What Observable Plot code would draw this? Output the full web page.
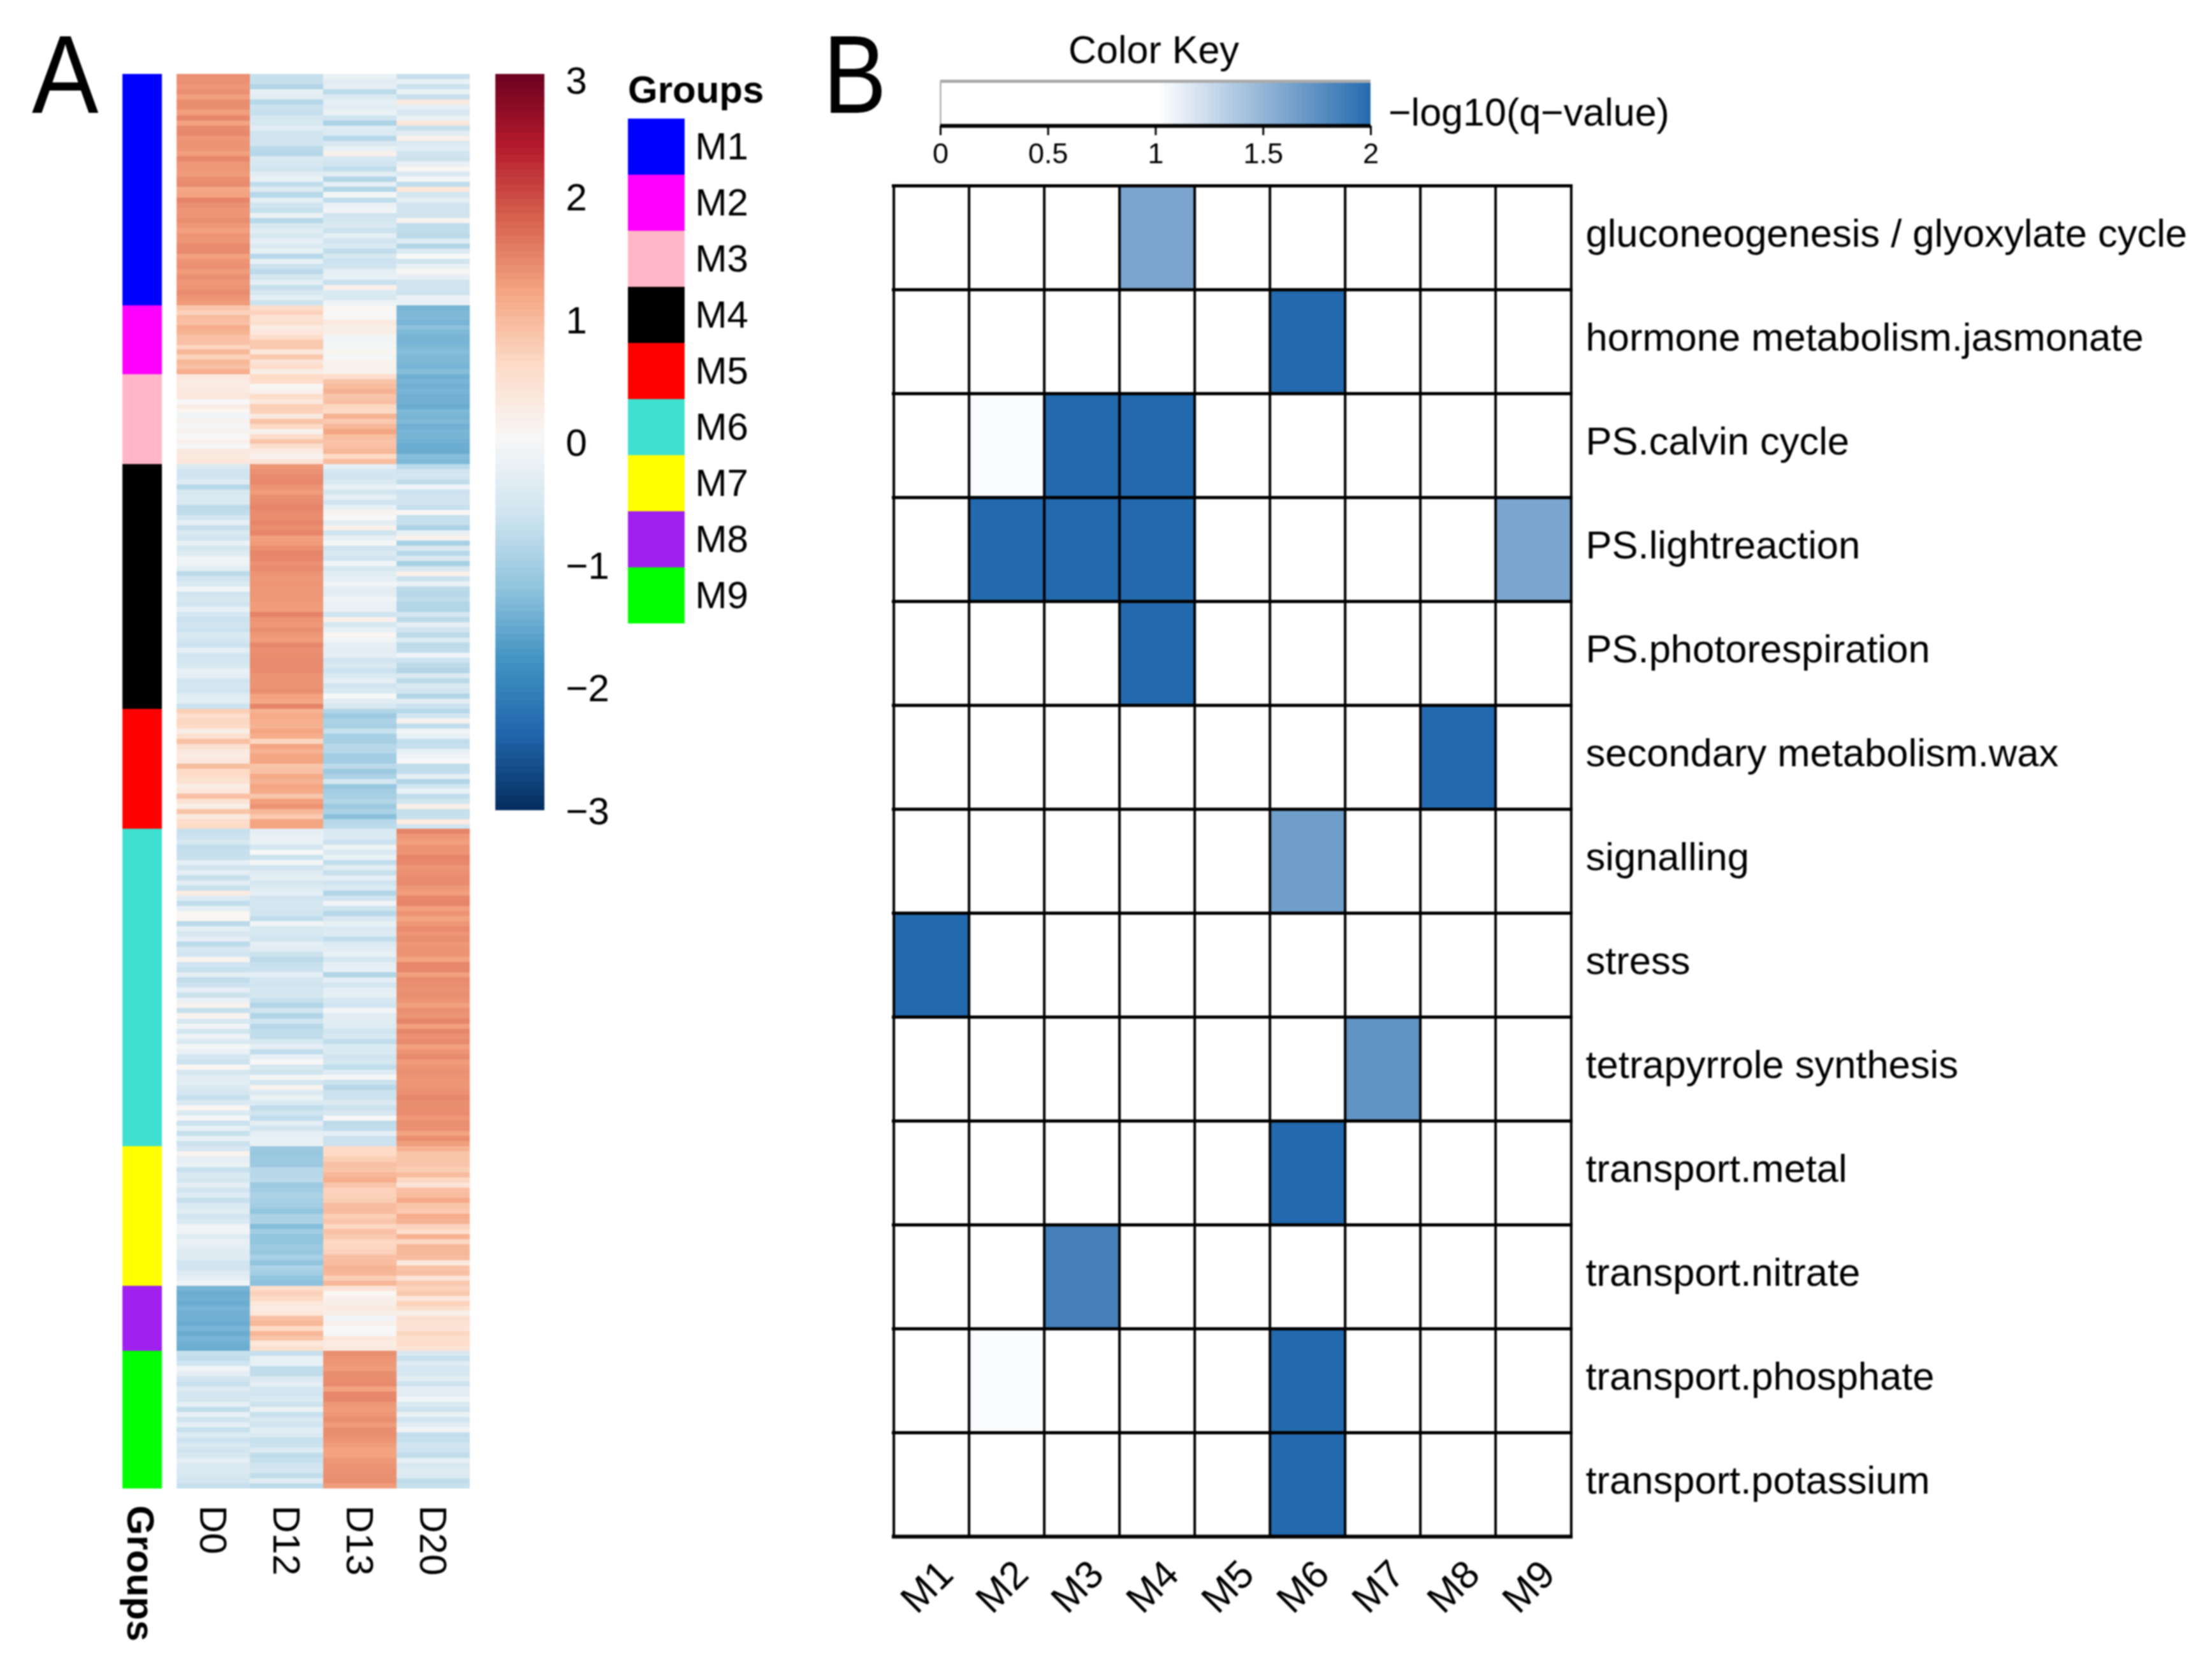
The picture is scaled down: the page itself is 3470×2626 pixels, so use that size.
<!DOCTYPE html>
<html>
<head>
<meta charset="utf-8">
<script src="https://cdn.jsdelivr.net/npm/d3@7"></script>
<script src="https://cdn.jsdelivr.net/npm/@observablehq/plot@0.6"></script>
<style>
html,body{margin:0;padding:0;background:#fff;overflow:hidden;}
#page{position:relative;width:3470px;height:2626px;font-family:"Liberation Sans",sans-serif;color:#000;filter:blur(0.9px);}
#page svg{position:absolute;overflow:visible;max-width:none;background:none;}
.t{position:absolute;white-space:nowrap;line-height:1;}
</style>
</head>
<body>
<div id="page"></div>
<script>
// ---------- Panel A data ----------
const modules = ["M1","M2","M3","M4","M5","M6","M7","M8","M9"];
const moduleColors = ["#0000ff","#ff00ff","#ffb6c6","#000000","#ff0000","#40e0d0","#ffff00","#a020f0","#00ff00"];
const moduleGenes = [121,36,47,128,63,166,73,34,72];
const days = ["D0","D12","D13","D20"];
const keyTicksA = [-3,-2,-1,0,1,2];

const M1_D0 = [1.38,1.38,1.32,1.38,1.25,1.4,1.4,1.25,1.46,1.22,1.43,1.46,1.32,1.35,1.35,1.25,1.46,1.32,1.32,1.28,1.4,1.43,1.18,1.22,1.48,1.38,1.32,1.35,1.4,1.32,1.25,1.35,1.32,1.43,1.43,1.25,1.35,1.38,1.28,1.38,1.32,1.35,1.43,1.35,1.28];
const M1_D12 = [-0.7,-0.7,-0.9,-0.25,-0.35,-0.85,-0.65,-0.7,-0.55,-0.5,-0.35,-0.6,-0.6,-0.6,-0.8,-0.85,-0.45,-0.5,-0.6,-0.35,-0.2,-0.75,-0.4,-0.85,-0.3,-0.6,-0.7,-0.2,-0.85,-0.5,-0.35,-0.5,-0.3,-0.45,-0.25,-0.85,-0.25,-0.65,-0.8,-0.55,-0.3,-0.7,-0.5,-0.3,-0.65];
const M1_D13 = [-0.2,-0.35,-0.3,-0.8,-0.45,-0.3,-0.35,-0.2,-0.6,-0.95,-0.4,-0.45,-0.85,-0.5,-0.25,0.15,-0.5,-0.6,-0.75,-0.35,-0.9,-0.3,-0.9,-0.05,-0.75,-0.2,-0.1,-0.6,-0.55,-0.45,-0.65,-0.3,-0.6,-0.45,-0.75,-0.5,-0.65,-0.6,-0.3,-0.25,-0.7,0.15,-0.45,-0.5,-0.15];
const M1_D20 = [-0.7,-0.25,-0.65,-0.2,-0.7,0.3,-0.3,-0.5,-0.2,0.35,-0.7,-0.35,0.15,-0.45,-0.35,-0.6,-0.65,-0.25,0.05,-0.45,-0.05,-0.75,0.35,-0.55,-0.3,-0.6,-0.6,-0.6,0.1,-0.75,-0.75,-0.8,-0.4,-0.9,-0.45,0.0,-0.6,-0.2,0.05,-0.3,-0.6,-0.6,-0.65,-0.2,-0.2];

const M2_D0 = [0.85,0.7,0.95,0.9,1.1,1.05,0.9,0.9,0.65,1.0,0.7,1.0,0.9,1.1];
const M2_D12 = [0.55,0.7,0.45,0.5,0.25,0.35,0.55,0.8,0.8,0.35,0.8,0.4,0.55,0.2];
const M2_D13 = [0.05,0.0,0.02,0.3,0.2,0.2,-0.08,-0.08,-0.05,0.05,-0.05,0.1,0.1,0.1];
const M2_D20 = [-1.4,-1.35,-1.35,-1.4,-1.25,-1.35,-1.4,-1.4,-1.35,-1.3,-1.35,-1.35,-1.4,-1.3];

const M3_D0 = [0.35,0.25,0.25,0.3,0.35,0.0,0.2,0.05,-0.1,0.1,-0.05,0.1,0.0,0.15,-0.02,0.3,0.3,0.35];
const M3_D12 = [0.6,0.55,0.05,0.15,0.55,0.35,0.75,0.7,0.3,0.85,0.6,0.1,0.55,0.85,0.5,0.25,0.1,0.4];
const M3_D13 = [0.55,0.85,0.95,1.05,0.85,0.9,0.65,0.6,1.05,0.8,1.0,1.2,0.95,0.85,0.9,1.0,0.6,0.95];
const M3_D20 = [-1.45,-1.4,-1.45,-1.4,-1.45,-1.45,-1.5,-1.35,-1.4,-1.35,-1.45,-1.4,-1.4,-1.45,-1.5,-1.5,-1.3,-1.35];

const M4_D0 = [-0.45,-0.6,-0.6,-0.4,-0.85,-0.5,-0.45,-0.45,-0.8,-0.75,-0.55,-0.3,-0.7,-0.45,-0.6,-0.2,-0.55,-0.4,-0.15,-0.15,-0.35,-0.8,-0.6,-0.45,-0.1,-0.6,-0.5,-0.6,-0.25,-0.55,-0.65,-0.6,-0.65,-0.45,-0.55,-0.65,-0.3,-0.6,-0.55,-0.5,-0.25,-0.3,-0.6,-0.55,-0.6,-0.35,-0.35,-0.65];
const M4_D12 = [1.32,1.38,1.43,1.46,1.35,1.28,1.4,1.43,1.48,1.43,1.4,1.48,1.4,1.48,1.25,1.28,1.4,1.48,1.46,1.38,1.43,1.35,1.32,1.35,1.32,1.32,1.32,1.28,1.28,1.5,1.35,1.32,1.4,1.32,1.28,1.46,1.38,1.4,1.43,1.43,1.43,1.35,1.35,1.35,1.4,1.22,1.18,1.48];
const M4_D13 = [-0.3,-0.55,-0.6,-0.45,-0.25,-0.55,-0.3,-0.6,-0.25,0.1,0.0,-0.35,0.15,-0.6,-0.25,-0.05,-0.6,-0.45,-0.6,-0.1,-0.5,-0.35,-0.3,-0.1,-0.35,-0.35,-0.1,-0.2,-0.2,-0.6,0.15,-0.5,-0.25,0.05,-0.1,-0.3,-0.3,-0.3,-0.6,-0.45,-0.65,-0.45,-0.3,-0.6,-0.45,0.0,-0.35,-0.5];
const M4_D20 = [-0.8,-0.6,-0.55,-0.75,-0.1,-0.65,-0.6,-0.6,-0.7,0.05,-0.7,-0.7,-0.95,-0.2,0.1,-1.0,-0.45,-0.85,-0.45,-1.0,-0.5,0.15,-0.65,-0.2,-0.8,-0.85,-0.75,-0.9,-0.9,-0.55,-0.8,-0.3,-0.6,-0.8,-0.45,-0.8,-0.75,-0.1,-0.65,-0.8,-0.9,-0.45,-0.8,-0.45,-0.6,-0.9,-0.35,-0.65];

const M5_D0 = [0.75,0.55,0.65,0.6,0.2,0.5,0.9,0.5,0.3,0.25,0.35,0.95,0.6,0.55,0.45,0.2,0.35,0.9,0.45,0.2,0.85,0.3,0.55,0.6];
const M5_D12 = [1.05,1.15,1.1,1.05,1.2,1.1,0.65,1.2,1.05,1.2,1.2,0.85,0.9,1.15,1.05,1.2,1.15,0.85,1.25,1.35,1.0,0.8,1.2,1.2];
const M5_D13 = [-0.9,-1.1,-0.95,-1.0,-0.7,-1.0,-1.0,-0.85,-0.85,-1.05,-1.05,-0.8,-1.1,-0.95,-0.55,-1.15,-1.05,-1.0,-0.9,-1.1,-0.95,-1.25,-0.85,-0.8];
const M5_D20 = [-0.85,-0.6,0.1,-0.75,-0.1,-0.25,-0.75,-0.7,-0.25,-0.15,0.0,-0.75,-0.75,-0.3,-0.9,-0.6,-0.2,-0.75,-0.6,0.2,-0.7,-0.7,0.25,-0.6];

const M6_D0 = [-0.7,-0.65,-0.5,-0.75,-0.7,-0.7,-0.3,-0.6,-0.3,-0.7,-0.35,-0.7,0.25,-0.4,-0.75,-0.3,0.05,0.05,-0.8,-0.3,-0.5,-0.3,-0.8,-0.5,-0.6,0.1,-0.6,-0.7,-0.3,-0.75,-0.65,-0.3,-0.65,-0.2,0.1,-0.7,0.1,-0.5,-0.1,-0.55,-0.15,-0.45,-0.05,-0.2,-0.55,-0.65,0.05,-0.5,-0.35,-0.35,-0.45,-0.55,-0.7,-0.45,0.05,-0.45,-0.05,-0.65,-0.25,-0.7,-0.25,-0.65];
const M6_D12 = [-0.3,-0.2,-0.2,-0.55,0.0,-0.65,-0.05,-0.6,-0.4,-0.3,-0.5,-0.4,-0.3,-0.6,-0.55,-0.55,-0.6,-0.75,-0.1,-0.5,-0.5,-0.6,-0.3,-0.35,-0.65,-0.8,-0.7,-0.65,-0.3,-0.55,-0.6,-0.55,-0.55,-0.7,-0.9,-0.6,-0.9,-0.6,-0.85,-0.75,-0.75,-0.5,-0.3,-0.75,-0.25,0.0,-0.5,-0.6,-0.05,-0.55,0.1,-0.45,-0.2,-0.45,-0.75,-0.6,-0.75,-0.3,-0.6,-0.3,-0.25,-0.2];
const M6_D13 = [-0.45,-0.45,-0.65,-0.15,-0.45,-0.2,-0.75,-0.35,-0.7,-0.3,-0.6,-0.45,-0.9,-0.6,-0.15,-0.6,-0.85,-0.5,-0.25,-0.45,-0.4,-0.75,-0.45,-0.35,-0.2,-0.55,-0.3,-0.25,-0.9,-0.3,-0.55,-0.3,-0.25,-0.5,-0.6,-0.1,-0.35,-0.35,-0.4,-0.6,-0.5,-0.75,-0.45,-0.45,-0.6,-0.55,-0.75,-0.4,-0.05,-0.65,-0.85,-0.65,-0.65,-0.45,-0.65,-0.5,0.0,-0.8,-0.75,-0.3,-0.65,-0.65];
const M6_D20 = [1.48,1.32,1.25,1.35,1.35,1.48,1.46,1.35,1.38,1.43,1.43,1.32,1.25,1.46,1.48,1.25,1.35,1.22,1.32,1.43,1.35,1.4,1.32,1.35,1.35,1.22,1.46,1.46,1.25,1.43,1.4,1.38,1.4,1.35,1.25,1.38,1.35,1.48,1.25,1.46,1.38,1.43,1.25,1.35,1.43,1.28,1.35,1.38,1.35,1.32,1.35,1.38,1.46,1.4,1.4,1.43,1.32,1.4,1.38,1.22,1.4,1.25];

const M7_D0 = [-0.5,0.1,-0.3,-0.2,-0.7,-0.45,-0.55,-0.3,-0.6,-0.4,-0.7,-0.45,-0.35,-0.6,-0.45,-0.1,-0.1,-0.4,-0.2,-0.3,-0.4,-0.4,-0.6,-0.6,-0.4,-0.3,-0.1];
const M7_D12 = [-1.1,-1.15,-1.1,-1.1,-0.85,-0.85,-0.8,-1.1,-1.05,-0.95,-1.0,-1.05,-1.2,-0.95,-0.95,-1.3,-1.05,-1.2,-1.2,-1.1,-1.15,-1.0,-1.2,-0.95,-1.05,-1.2,-1.25];
const M7_D13 = [0.6,0.6,0.75,0.9,0.85,1.0,1.1,0.85,0.7,0.7,0.75,0.95,0.95,0.75,0.85,0.65,0.9,0.8,0.65,0.65,0.7,0.9,0.95,1.05,1.0,0.75,1.0];
const M7_D20 = [1.05,0.85,0.85,0.85,0.75,0.95,0.65,0.4,0.9,0.95,1.15,0.85,0.8,1.1,1.05,0.7,0.55,1.05,0.65,1.0,1.0,0.95,0.3,0.85,0.9,0.4,0.8];

const M8_D0 = [-1.4,-1.5,-1.45,-1.5,-1.4,-1.45,-1.45,-1.5,-1.4,-1.5,-1.4,-1.45,-1.5];
const M8_D12 = [0.55,0.7,0.6,0.35,0.25,0.35,0.9,1.0,0.6,1.0,0.85,0.35,0.5];
const M8_D13 = [0.4,0.05,0.15,0.2,0.3,0.2,-0.1,0.15,0.0,-0.02,0.35,0.25,0.3];
const M8_D20 = [0.7,0.8,0.35,0.7,0.5,0.15,0.5,0.45,0.4,0.65,0.5,0.55,0.45];

const M9_D0 = [-0.7,-0.75,-0.6,-0.1,-0.3,-0.6,-0.7,-0.4,-0.55,-0.55,-0.3,-0.75,-0.25,-0.6,-0.3,-0.7,-0.4,-0.65,-0.45,-0.6,-0.5,-0.3,-0.45,-0.45,-0.5,-0.6,-0.7];
const M9_D12 = [-0.7,-0.25,-0.25,-0.75,-0.75,-0.45,-0.3,-0.55,-0.6,-0.45,-0.65,-0.2,-0.7,-0.45,-0.6,-0.35,-0.45,-0.7,-0.65,-0.4,-0.75,-0.7,-0.6,-0.55,-0.75,-0.35,-0.8];
const M9_D13 = [1.4,1.35,1.32,1.28,1.4,1.4,1.43,1.22,1.46,1.46,1.32,1.28,1.32,1.4,1.28,1.4,1.4,1.35,1.28,1.22,1.22,1.32,1.35,1.38,1.38,1.4,1.28];
const M9_D20 = [-0.5,-0.7,-0.4,-0.55,-0.5,-0.35,-0.65,-0.3,-0.35,-0.1,-0.45,-0.65,-0.2,-0.6,-0.35,-0.1,-0.75,-0.7,-0.6,-0.65,-0.75,-0.3,-0.5,-0.4,-0.45,-0.75,-0.7];

const heatColumns = [
  [M1_D0,M1_D12,M1_D13,M1_D20],[M2_D0,M2_D12,M2_D13,M2_D20],[M3_D0,M3_D12,M3_D13,M3_D20],
  [M4_D0,M4_D12,M4_D13,M4_D20],[M5_D0,M5_D12,M5_D13,M5_D20],[M6_D0,M6_D12,M6_D13,M6_D20],
  [M7_D0,M7_D12,M7_D13,M7_D20],[M8_D0,M8_D12,M8_D13,M8_D20],[M9_D0,M9_D12,M9_D13,M9_D20]
];

// ---------- Panel B data ----------
const pathways = ["gluconeogenesis / glyoxylate cycle","hormone metabolism.jasmonate","PS.calvin cycle","PS.lightreaction","PS.photorespiration","secondary metabolism.wax","signalling","stress","tetrapyrrole synthesis","transport.metal","transport.nitrate","transport.phosphate","transport.potassium"];
const enrichedPathway = [0,1,2,2,2,3,3,3,3,4,5,6,7,8,9,10,11,11,12];
const enrichedModule  = ["M4","M6","M2","M3","M4","M2","M3","M4","M9","M4","M8","M6","M1","M7","M6","M3","M2","M6","M6"];
const enrichedValue   = [1.6,2,1.02,2,2,2,2,2,1.6,2,2,1.65,2,1.72,2,1.85,1.02,2,2];
const keyTicksB = [0,0.5,1,1.5,2];

// ---------- Scales and helpers ----------
const rdbu = {type:"linear",domain:[-3,-2.4,-1.8,-1.2,-0.6,0,0.6,1.2,1.8,2.4,3],
  range:["#053061","#2166ac","#4393c3","#92c5de","#d1e5f0","#f7f7f7","#fddbc7","#f4a582","#d6604d","#b2182b","#67001f"]};
const blues = {type:"linear",domain:[0,1,2],range:["#ffffff","#ffffff","#2369ad"]};
const FONT = "Liberation Sans";
const page = document.getElementById("page");
function place(svg,left,top){svg.style.left=left+"px";svg.style.top=top+"px";page.appendChild(svg);}
function label(text,left,top,size,extra){
  const d=document.createElement("div");d.className="t";d.textContent=text;
  d.style.left=left+"px";d.style.top=top+"px";d.style.fontSize=size+"px";
  if(extra)Object.assign(d.style,extra);page.appendChild(d);
}
const totalGenes = d3.sum(moduleGenes);
const moduleStart = d3.cumsum([0,...moduleGenes]);
const heatBands = [];
heatColumns.forEach((cols,m)=>cols.forEach((arr,c)=>arr.forEach((v,k)=>{
  const size=moduleGenes[m]/arr.length;
  heatBands.push({day:days[c],y1:moduleStart[m]+k*size,y2:moduleStart[m]+(k+1)*size,value:v});
})));
const groupBands = modules.map((m,i)=>({module:m,y1:moduleStart[i],y2:moduleStart[i+1]}));

// Annotation column
place(Plot.plot({width:62,height:2219+120,marginTop:0,marginRight:0,marginLeft:0,marginBottom:120,
  style:{fontFamily:FONT,fontSize:"60px"},
  x:{domain:["Groups"],padding:0,axis:null},
  y:{domain:[0,totalGenes],reverse:true,axis:null},
  color:{domain:modules,range:moduleColors},
  marks:[
    Plot.barY(groupBands,{x:()=>"Groups",y1:"y1",y2:"y2",fill:"module",shapeRendering:"crispEdges"}),
    Plot.axisX({domain:["Groups"],anchor:"bottom",tickRotate:90,tickSize:0,tickPadding:26,dx:-4,fontWeight:"bold",label:null})
  ]}),192,116);

// Main heatmap
place(Plot.plot({width:461,height:2219+120,marginTop:0,marginRight:0,marginLeft:0,marginBottom:120,
  style:{fontFamily:FONT,fontSize:"60px"},
  x:{domain:days,padding:0},
  y:{domain:[0,totalGenes],reverse:true,axis:null},
  color:rdbu,
  marks:[
    Plot.barY(heatBands,{x:"day",y1:"y1",y2:"y2",fill:"value",shapeRendering:"crispEdges"}),
    Plot.axisX({anchor:"bottom",tickRotate:90,tickSize:0,tickPadding:26,dx:-2,label:null})
  ]}),276,116);

// Value key for panel A
const stepsA = d3.range(-3,3,0.06);
place(Plot.plot({width:77,height:1155,marginTop:0,marginRight:0,marginLeft:0,marginBottom:0,
  style:{fontFamily:FONT,fontSize:"60px"},
  x:{axis:null},
  y:{domain:[-3,3],axis:null},
  color:rdbu,
  marks:[
    Plot.barY(stepsA,{y1:d=>d,y2:d=>d+0.06,fill:d=>d,shapeRendering:"crispEdges"}),
    Plot.axisY({ticks:keyTicksA,anchor:"right",tickSize:0,tickPadding:33,dy:2,tickFormat:d3.format("d"),label:null}),
    Plot.text([3],{y:d=>d,text:d=>String(d),frameAnchor:"right",textAnchor:"start",dx:33,dy:11,fontSize:60})
  ]}),777,116);

// Groups legend
label("Groups",985,111,60,{fontWeight:"bold"});
place(Plot.plot({width:89,height:799,marginTop:0,marginRight:0,marginLeft:0,marginBottom:0,
  style:{fontFamily:FONT,fontSize:"60px"},
  y:{domain:modules,padding:0},
  color:{domain:modules,range:moduleColors},
  marks:[
    Plot.cell(modules,{y:d=>d,fill:d=>d,shapeRendering:"crispEdges"}),
    Plot.axisY({anchor:"right",tickSize:0,tickPadding:16,label:null})
  ]}),985,182);

// Panel letters
label("A",50,30,174,{transform:"scaleX(0.9)",transformOrigin:"left top"});
label("B",1291,30,174,{transform:"scaleX(0.86)",transformOrigin:"left top"});

// Color key for panel B
label("Color Key",1676,48,61);
label("−log10(q−value)",2178,146,61);
const stepsB = d3.range(0,2,0.02);
place(Plot.plot({width:675,height:70+60,marginTop:0,marginRight:0,marginLeft:0,marginBottom:60,
  style:{fontFamily:FONT,fontSize:"45px"},
  x:{domain:[0,2],axis:null},
  y:{axis:null},
  color:blues,
  marks:[
    Plot.barX(stepsB,{x1:d=>d,x2:d=>d+0.02,fill:d=>d,shapeRendering:"crispEdges"}),
    Plot.ruleX([0],{stroke:"#999",strokeWidth:2}),
    Plot.ruleY([1],{frameAnchor:"top",stroke:"#aaa",strokeWidth:5}),
    Plot.axisX({ticks:keyTicksB,anchor:"bottom",tickSize:15,tickPadding:12,strokeWidth:3,tickFormat:d=>String(d),label:null}),
    Plot.ruleY([0],{stroke:"#000",strokeWidth:6})
  ]}),1475,127);

// Panel B heatmap
const W=1068,H=2121;
const colW=W/modules.length,rowH=H/pathways.length;
const enriched = enrichedValue.map((v,i)=>({pathway:pathways[enrichedPathway[i]],module:enrichedModule[i],value:v}));
place(Plot.plot({width:W,height:H,marginTop:0,marginRight:0,marginLeft:0,marginBottom:0,
  style:{fontFamily:FONT,fontSize:"61.5px"},
  x:{domain:modules,padding:0},
  y:{domain:pathways,padding:0},
  color:blues,
  marks:[
    Plot.cell(enriched,{x:"module",y:"pathway",fill:"value",shapeRendering:"crispEdges"}),
    Plot.ruleX(modules,{x:d=>d,dx:-colW/2,stroke:"#000",strokeWidth:4}),
    Plot.ruleX(modules.slice(-1),{x:d=>d,dx:colW/2,stroke:"#000",strokeWidth:4}),
    Plot.ruleY(pathways,{y:d=>d,dy:-rowH/2,stroke:"#000",strokeWidth:5}),
    Plot.ruleY(pathways.slice(-1),{y:d=>d,dy:rowH/2,stroke:"#000",strokeWidth:6}),
    Plot.axisY({anchor:"right",tickSize:0,tickPadding:20,dy:-6,label:null}),
    Plot.axisX({anchor:"bottom",tickRotate:-45,tickSize:0,tickPadding:78,dx:-7,textAnchor:"middle",lineAnchor:"middle",label:null})
  ]}),1399,290);
</script>
</body>
</html>
